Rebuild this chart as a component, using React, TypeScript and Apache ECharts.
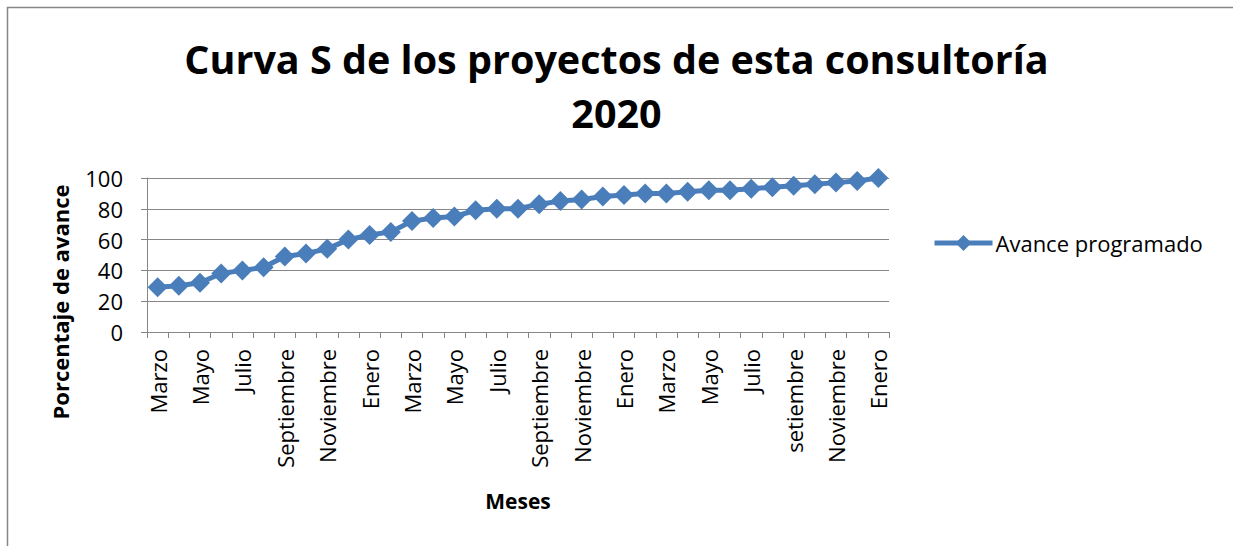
import React, { useEffect, useRef } from "react";
import * as echarts from "echarts";

const months: string[] = [
  "Marzo", "Abril", "Mayo", "Junio", "Julio", "Agosto", "Septiembre", "Octubre", "Noviembre", "Diciembre",
  "Enero", "Febrero", "Marzo", "Abril", "Mayo", "Junio", "Julio", "Agosto", "Septiembre", "Octubre", "Noviembre", "Diciembre",
  "Enero", "Febrero", "Marzo", "Abril", "Mayo", "Junio", "Julio", "Agosto", "setiembre", "Octubre", "Noviembre", "Diciembre",
  "Enero",
];

const avanceProgramado: number[] = [
  29, 30, 32, 38, 40, 42, 49, 51, 54, 60, 63, 65, 72, 74, 75, 79, 80, 80, 83, 85, 86, 88, 89, 90,
  90, 91, 92, 92, 93, 94, 95, 96, 97, 98, 100,
];

const titleText = "Curva S de los proyectos de esta consultoría\n2020";
const seriesName = "Avance programado";
const yAxisTitle = "Porcentaje de avance";
const xAxisTitle = "Meses";

const FONT = "'Open Sans', 'Noto Sans', sans-serif";
const BLUE = "#4A7EBB";
const GRAY = "#868686";

export default function App() {
  const ref = useRef<HTMLDivElement>(null);
  useEffect(() => {
    if (!ref.current) return;
    const chart = echarts.init(ref.current, undefined, { renderer: "svg" });
    chart.setOption({
      animation: false,
      backgroundColor: "#ffffff",
      title: {
        text: titleText,
        left: "center",
        top: 32,
        padding: [0, 0, 0, 13],
        textStyle: {
          fontFamily: FONT,
          fontWeight: "bold",
          fontSize: 39.5,
          lineHeight: 54,
          color: "#000",
        },
      },
      legend: {
        left: 932,
        top: 232,
        padding: 0,
        itemWidth: 58,
        itemHeight: 20,
        itemGap: 5,
        lineStyle: { width: 5, color: BLUE },
        textStyle: { fontFamily: FONT, fontSize: 22, color: "#000", padding: [0, 0, 0, -2] },
        data: [seriesName],
      },
      grid: { left: 147, right: 344, top: 178, bottom: 214, containLabel: false },
      xAxis: {
        type: "category",
        data: months,
        boundaryGap: true,
        name: xAxisTitle,
        nameLocation: "middle",
        nameGap: 158,
        nameTextStyle: { fontFamily: FONT, fontWeight: "bold", fontSize: 21, color: "#000" },
        axisLine: { show: true, lineStyle: { color: GRAY, width: 1 } },
        axisTick: { show: true, interval: 0, length: 6, lineStyle: { color: GRAY } },
        axisLabel: {
          interval: 1,
          rotate: 90,
          margin: 17,
          fontFamily: FONT,
          fontSize: 22,
          color: "#000",
        },
        splitLine: { show: false },
      },
      yAxis: {
        type: "value",
        min: 0,
        max: 100,
        interval: 20,
        axisLine: { show: true, lineStyle: { color: GRAY, width: 1 } },
        axisTick: { show: true, length: 6, lineStyle: { color: GRAY } },
        axisLabel: { margin: 24, fontFamily: FONT, fontSize: 22, color: "#000" },
        splitLine: { show: true, lineStyle: { color: GRAY, width: 1 } },
      },
      graphic: [
        {
          type: "rect",
          shape: { x: 7.5, y: 7.5, width: 1300, height: 600 },
          style: { fill: "none", stroke: GRAY, lineWidth: 1.5 },
          silent: true,
        },
        {
          type: "text",
          x: 60,
          y: 302,
          rotation: Math.PI / 2,
          style: {
            text: yAxisTitle,
            align: "center",
            verticalAlign: "middle",
            fontFamily: FONT,
            fontWeight: "bold",
            fontSize: 22,
            fill: "#000",
          },
        },
      ],
      series: [
        {
          name: seriesName,
          type: "line",
          data: avanceProgramado,
          symbol: "diamond",
          symbolSize: 20,
          showSymbol: true,
          showAllSymbol: true,
          lineStyle: { color: BLUE, width: 5 },
          itemStyle: { color: BLUE },
        },
      ],
    });
    return () => chart.dispose();
  }, []);
  return (
    <div
      ref={ref}
      style={{ position: "absolute", left: 0, top: 0, width: 1233, height: 546 }}
    />
  );
}
